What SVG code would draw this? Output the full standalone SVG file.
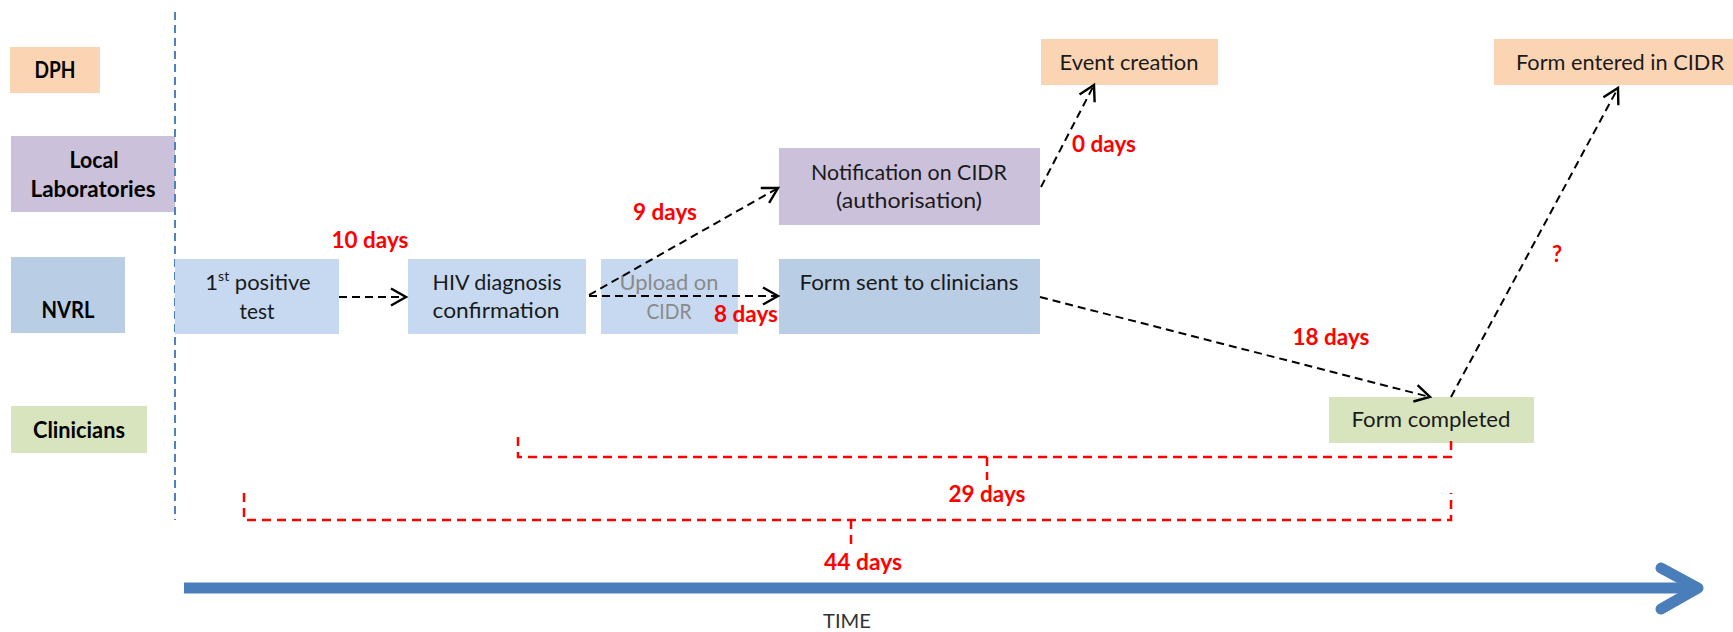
<svg xmlns="http://www.w3.org/2000/svg" width="1733" height="632" viewBox="0 0 1733 632">
<style>
  text { font-family: Lato, "Liberation Sans", sans-serif; text-anchor: middle; }
  .lane { font-size: 22px; font-weight: bold; fill: #000; }
  .node { font-size: 22px; fill: #1a1a1a; }
  .grey { fill: #8a8a8a; }
  .red { font-size: 22px; font-weight: bold; fill: #ff0000; }
  .peach { fill: #fbd4b4; }
  .lav { fill: #ccc1da; }
  .blue1 { fill: #b9cde5; }
  .blue2 { fill: #c6d9f1; }
  .green { fill: #d7e4bd; }
  .arrow { stroke: #000; stroke-width: 2; stroke-dasharray: 8 5; fill: none; marker-end: url(#open); }
  .bracket { stroke: #ff0000; stroke-width: 2.5; stroke-dasharray: 9 6; fill: none; }
</style>
<defs>
  <marker id="open" markerUnits="userSpaceOnUse" markerWidth="22" markerHeight="22" viewBox="0 0 22 22" refX="18" refY="11" orient="auto">
    <path d="M3,2.5 L18,11 L3,19.5" fill="none" stroke="#000" stroke-width="2.4" stroke-dasharray="none"/>
  </marker>
</defs>

<!-- lane labels -->
<g id="lane-dph"><rect class="peach" x="10" y="47" width="90" height="46"/><text class="lane" x="55" y="78" textLength="41" lengthAdjust="spacingAndGlyphs">DPH</text></g>
<g id="lane-local"><rect class="lav" x="11" y="136" width="164" height="76"/><text class="lane" x="94" y="168" textLength="49" lengthAdjust="spacingAndGlyphs">Local</text><text class="lane" x="93" y="197" textLength="125" lengthAdjust="spacingAndGlyphs">Laboratories</text></g>
<g id="lane-nvrl"><rect class="blue1" x="11" y="257" width="114" height="76"/><text class="lane" x="68" y="318" textLength="53" lengthAdjust="spacingAndGlyphs">NVRL</text></g>
<g id="lane-clin"><rect class="green" x="11" y="406" width="136" height="47"/><text class="lane" x="79" y="438" textLength="92" lengthAdjust="spacingAndGlyphs">Clinicians</text></g>

<!-- separator -->
<line x1="175" y1="12" x2="175" y2="520" stroke="#4f81bd" stroke-width="2" stroke-dasharray="8 5"/>

<!-- nodes -->
<g id="n-first"><rect class="blue2" x="175" y="259" width="164" height="75"/><text class="node" x="258" y="290">1<tspan font-size="14" dy="-9">st</tspan><tspan dy="9"> positive</tspan></text><text class="node" x="257" y="319" textLength="35" lengthAdjust="spacingAndGlyphs">test</text></g>
<g id="n-hiv"><rect class="blue2" x="408" y="259" width="178" height="75"/><text class="node" x="497" y="290" textLength="129" lengthAdjust="spacingAndGlyphs">HIV diagnosis</text><text class="node" x="496" y="318" textLength="127" lengthAdjust="spacingAndGlyphs">confirmation</text></g>
<g id="n-upload"><rect class="blue2" x="601" y="259" width="137" height="75"/><text class="node grey" x="669" y="290" textLength="99" lengthAdjust="spacingAndGlyphs">Upload on</text><text class="node grey" x="669" y="319" textLength="45" lengthAdjust="spacingAndGlyphs">CIDR</text></g>
<g id="n-formsent"><rect class="blue1" x="779" y="259" width="261" height="75"/><text class="node" x="909" y="290" textLength="219" lengthAdjust="spacingAndGlyphs">Form sent to clinicians</text></g>
<g id="n-notif"><rect class="lav" x="779" y="148" width="261" height="77"/><text class="node" x="909" y="180" textLength="196" lengthAdjust="spacingAndGlyphs">Notification on CIDR</text><text class="node" x="909" y="208" textLength="146" lengthAdjust="spacingAndGlyphs">(authorisation)</text></g>
<g id="n-event"><rect class="peach" x="1041" y="39" width="177" height="46"/><text class="node" x="1129" y="70" textLength="139" lengthAdjust="spacingAndGlyphs">Event creation</text></g>
<g id="n-entered"><rect class="peach" x="1494" y="39" width="239" height="46"/><text class="node" x="1620" y="70" textLength="208" lengthAdjust="spacingAndGlyphs">Form entered in CIDR</text></g>
<g id="n-completed"><rect class="green" x="1329" y="397" width="205" height="46"/><text class="node" x="1431" y="427" textLength="159" lengthAdjust="spacingAndGlyphs">Form completed</text></g>

<!-- connectors -->
<g id="connectors">
  <line class="arrow" x1="339" y1="297" x2="406" y2="297"/>
  <line class="arrow" x1="589" y1="296" x2="778" y2="296"/>
  <line class="arrow" x1="589" y1="295" x2="778" y2="188"/>
  <line class="arrow" x1="1041" y1="187" x2="1094" y2="85"/>
  <line class="arrow" x1="1040" y1="297" x2="1430" y2="397"/>
  <line class="arrow" x1="1451" y1="397" x2="1618" y2="88"/>
  <path class="bracket" d="M518,437 V457 H1451 V437"/>
  <path class="bracket" d="M987,457 V480"/>
  <path class="bracket" d="M244,493 V520 H1451 V493"/>
  <path class="bracket" d="M851,520 V547"/>
</g>

<!-- labels -->
<g id="labels">
  <text class="red" x="370" y="248" textLength="77" lengthAdjust="spacingAndGlyphs">10 days</text>
  <text class="red" x="665" y="220" textLength="64" lengthAdjust="spacingAndGlyphs">9 days</text>
  <text class="red" x="746" y="322" textLength="64" lengthAdjust="spacingAndGlyphs">8 days</text>
  <text class="red" x="1104" y="152" textLength="64" lengthAdjust="spacingAndGlyphs">0 days</text>
  <text class="red" x="1331" y="345" textLength="77" lengthAdjust="spacingAndGlyphs">18 days</text>
  <text class="red" x="1557" y="262">?</text>
  <text class="red" x="987" y="502" textLength="77" lengthAdjust="spacingAndGlyphs">29 days</text>
  <text class="red" x="863" y="570" textLength="78" lengthAdjust="spacingAndGlyphs">44 days</text>
</g>

<!-- time axis -->
<g id="time">
  <line x1="184" y1="588" x2="1698" y2="588" stroke="#4a7ebb" stroke-width="11"/>
  <polyline points="1661,568 1698,588 1661,609" fill="none" stroke="#4a7ebb" stroke-width="11" stroke-linecap="round" stroke-linejoin="round"/>
  <text x="847" y="628" font-size="20" fill="#333" textLength="48" lengthAdjust="spacingAndGlyphs">TIME</text>
</g>
</svg>
